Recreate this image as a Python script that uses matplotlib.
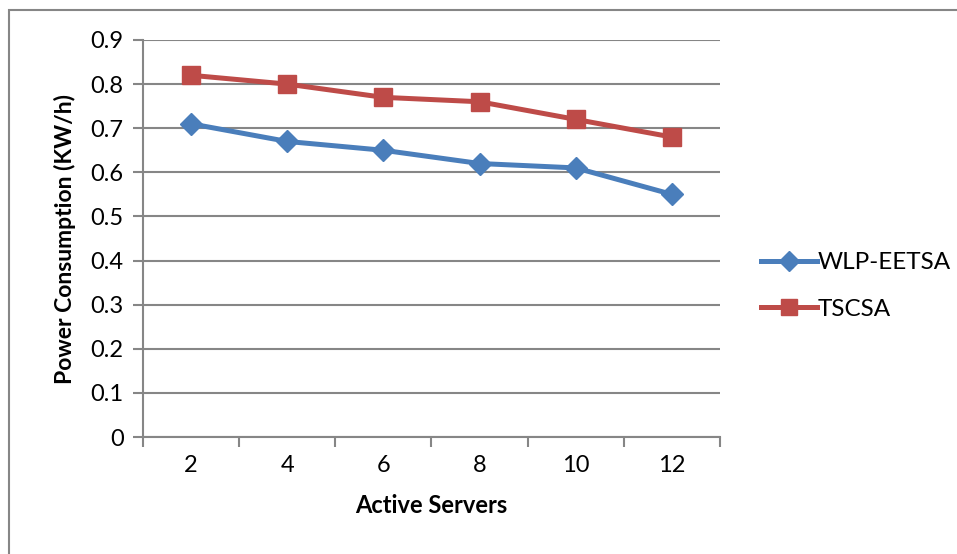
import matplotlib.pyplot as plt
from matplotlib.patches import Rectangle
from matplotlib.ticker import FixedLocator

servers = ['2', '4', '6', '8', '10', '12']
wlp_eetsa = [0.71, 0.67, 0.65, 0.62, 0.61, 0.55]
tscsa = [0.82, 0.80, 0.77, 0.76, 0.72, 0.68]
y_ticks = [0, 0.1, 0.2, 0.3, 0.4, 0.5, 0.6, 0.7, 0.8, 0.9]
y_labels = ['0', '0.1', '0.2', '0.3', '0.4', '0.5', '0.6', '0.7', '0.8', '0.9']

plt.rcParams['font.family'] = ['Lato', 'DejaVu Sans']
grey = '#868686'

fig = plt.figure(figsize=(9.57, 5.54), dpi=100)
# outer chart border (only left and top visible in the crop)
fig.patches.append(Rectangle((9 / 957, -0.1), 1.2, 1 - 10 / 554 + 0.1,
                             transform=fig.transFigure, fill=False,
                             edgecolor=grey, linewidth=1.5))

ax = fig.add_axes([143 / 957, 1 - 437 / 554, (720 - 143) / 957, (437 - 40) / 554])
x = list(range(len(servers)))

ax.plot(x, wlp_eetsa, color='#4A7EBB', linewidth=3.6, marker='D',
        markersize=11, label='WLP-EETSA')
ax.plot(x, tscsa, color='#BE4B48', linewidth=3.6, marker='s',
        markersize=13, label='TSCSA')

ax.set_xlim(-0.5, len(servers) - 0.5)
ax.set_ylim(0, 0.9)
ax.set_yticks(y_ticks)
ax.set_yticklabels(y_labels)
ax.xaxis.set_major_locator(FixedLocator([i - 0.5 for i in range(len(servers) + 1)]))
ax.xaxis.set_major_formatter(plt.NullFormatter())
ax.xaxis.set_minor_locator(FixedLocator(x))
ax.set_xticklabels(servers, minor=True)
ax.tick_params(axis='x', which='minor', length=0, pad=13, labelsize=17)
ax.tick_params(axis='x', which='major', length=7, width=1.5, color=grey, direction='out')
ax.tick_params(axis='y', length=7, width=1.5, color=grey, labelsize=17, pad=7)

ax.grid(True, axis='y', color=grey, linewidth=1.5)
ax.set_axisbelow(True)
for s in ['top', 'right']:
    ax.spines[s].set_visible(False)
for s in ['left', 'bottom']:
    ax.spines[s].set_color(grey)
    ax.spines[s].set_linewidth(1.5)

ax.set_xlabel('Active Servers', fontsize=17, fontweight='bold', labelpad=13)
ax.set_ylabel('Power Consumption (KW/h)', fontsize=16.5, fontweight='bold', labelpad=10)

fig.legend(loc='center left', bbox_to_anchor=(739 / 957, 1 - 286 / 554),
           frameon=False, fontsize=17.5, handlelength=2.3, handletextpad=0.05,
           labelspacing=1.05, markerscale=0.9)

fig.savefig('out.png', dpi=100)
